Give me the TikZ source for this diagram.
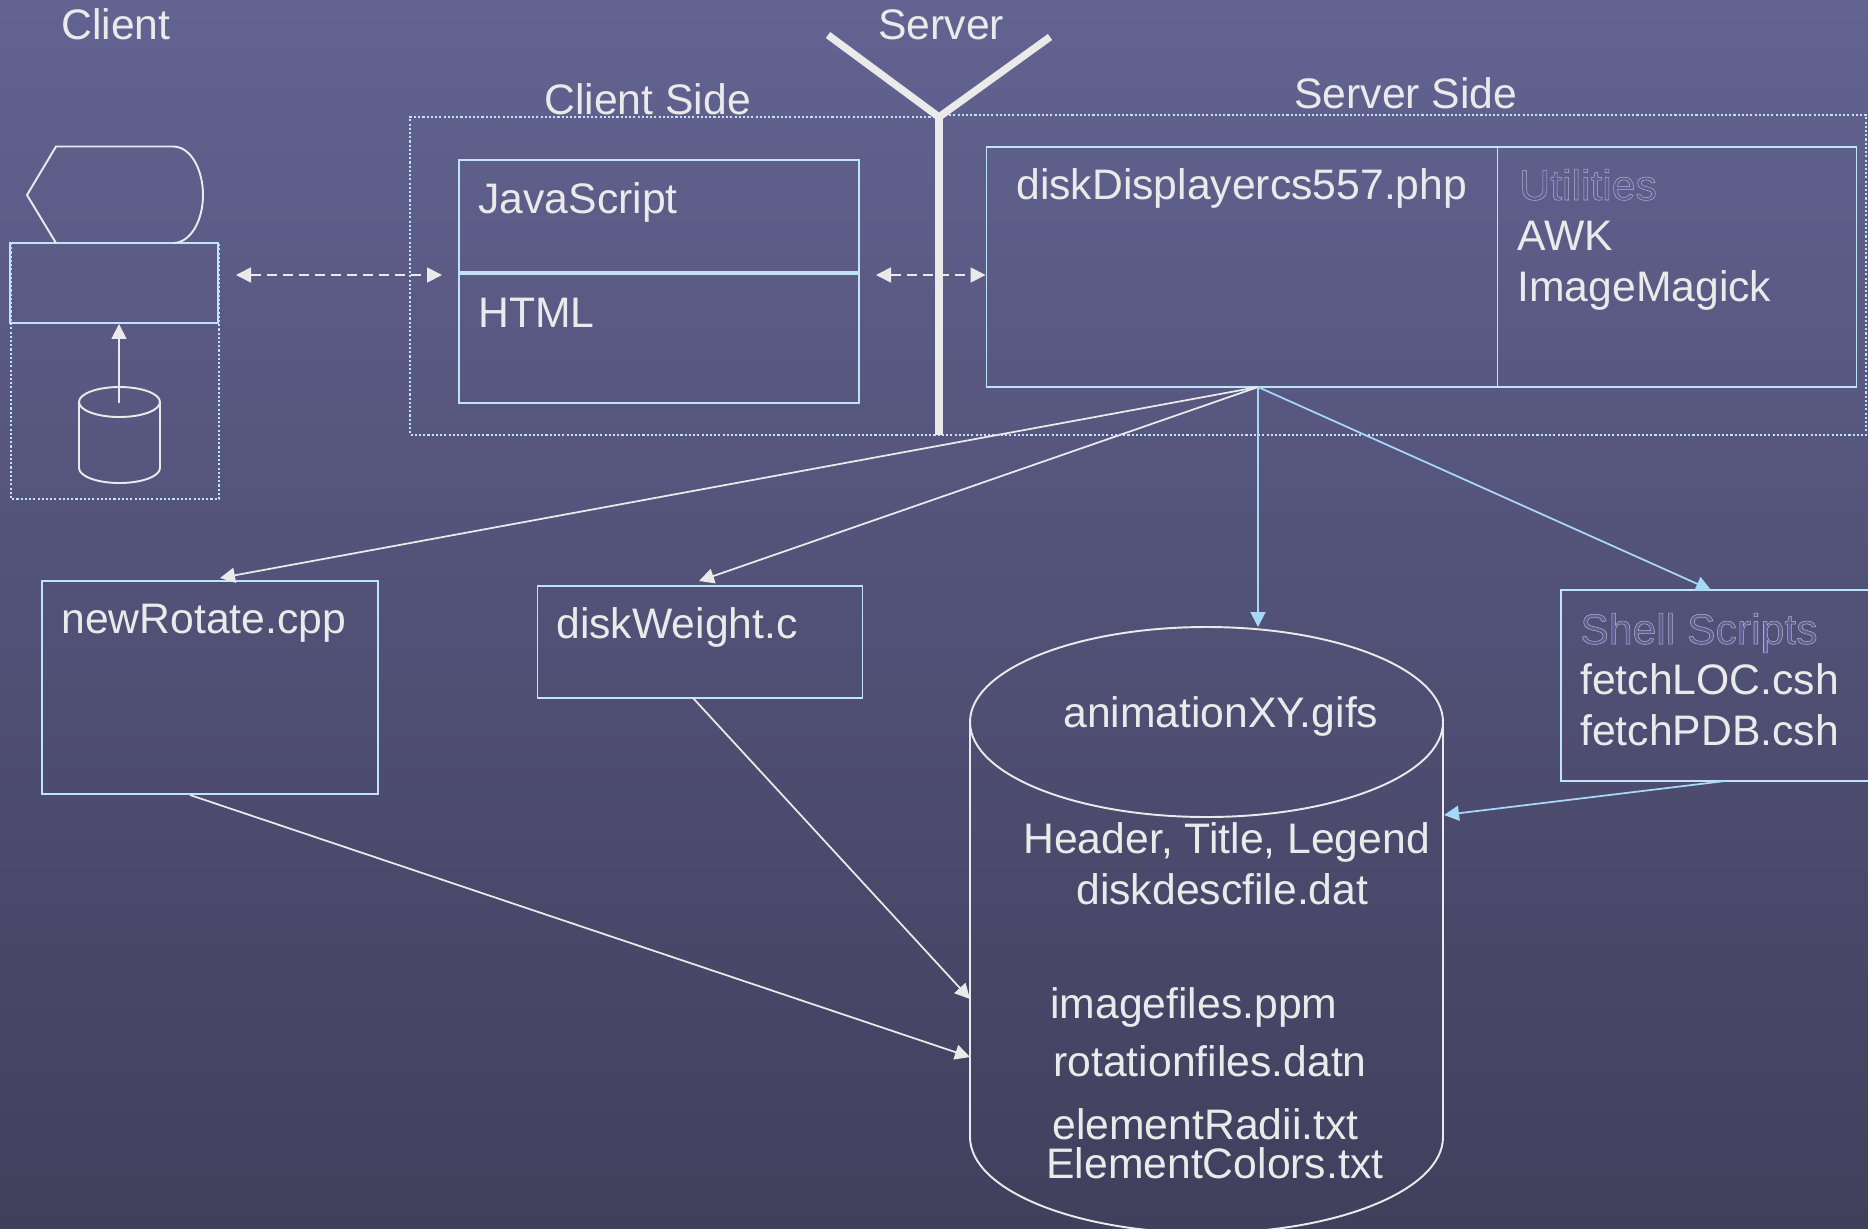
\documentclass[tikz,border=0pt]{standalone}
\usepackage{fontspec}
\setmainfont{Liberation Sans}
\usetikzlibrary{arrows.meta}
\definecolor{pale}{HTML}{EAEAEA}
\definecolor{icy}{HTML}{BFE3F8}
\definecolor{skyline}{HTML}{A8D8F8}
\definecolor{slatetop}{HTML}{636392}
\definecolor{slatebot}{HTML}{403F5C}
\newcommand{\px}{0.02cm}
\newcommand{\ghost}[1]{\special{pdf:code q 2 Tr 0.3 w 0.7 0.7 0.78 RG 0.37 0.37 0.58 rg}#1\special{pdf:code Q}}
\tikzset{
  lab/.style={anchor=base west, inner sep=0pt, text=pale, font=\fontsize{24.3pt}{28pt}\selectfont},
  boxnode/.style={draw=icy, line width=1.1pt, inner sep=0pt},
  sidebox/.style={draw=icy, line width=1.1pt, dash pattern=on 1.2pt off 1.2pt},
  palearrow/.style={draw=pale, line width=1pt, -{Triangle[length=3mm,width=3mm]}},
  bluearrow/.style={draw=skyline, line width=1pt, -{Triangle[length=3mm,width=3mm]}},
  wire/.style={draw=pale, line width=1.1pt},
  duplex/.style={draw=pale, line width=1pt, dash pattern=on 2mm off 1.2mm,
    {Triangle[length=3mm,width=3mm]}-{Triangle[length=3mm,width=3mm]}}
}
\begin{document}
\begin{tikzpicture}[x=0.02cm, y=-0.02cm]
  \useasboundingbox (0,0) rectangle (1868,1228);
  \shade[top color=slatetop, bottom color=slatebot] (0,0) rectangle (1868,1228);

  % dotted groups
  \draw[sidebox] (11,243) rectangle (219,499);
  \draw[sidebox] (939,117) -- (410,117) -- (410,435) -- (1866,435) -- (1866,115) -- (939,115);

  % server antenna
  \draw[draw=pale, line width=4.2pt] (828,35) -- (939,117) -- (1050,37);
  \draw[draw=pale, line width=4.2pt] (939,117) -- (939,435);

  % boxes
  \node[boxnode, minimum width=208*\px, minimum height=80*\px] (clientbox) at (114,283) {};
  \node[boxnode, minimum width=400*\px, minimum height=243*\px] (jsbox) at (659,281.5) {};
  \node[boxnode, minimum width=511*\px, minimum height=240*\px] (phpbox) at (1242,267) {};
  \node[boxnode, minimum width=359*\px, minimum height=240*\px] (utilbox) at (1677,267) {};
  \node[boxnode, minimum width=336*\px, minimum height=213*\px] (rotatebox) at (210,687.5) {};
  \node[boxnode, minimum width=325*\px, minimum height=112*\px] (weightbox) at (700,642) {};
  \node[boxnode, minimum width=330*\px, minimum height=191*\px] (shellbox) at (1726,685.5) {};
  \draw[draw=icy, line width=2pt] (jsbox.west |- 0,273) -- (jsbox.east |- 0,273);

  % browser shape
  \draw[wire] (56,243) -- (27,195) -- (56,146.5) -- (173,146.5)
    .. controls (191,146.5) and (203,170) .. (203,195)
    .. controls (203,220) and (191,243) .. (173,243);

  % small disk
  \draw[wire] (119.5,402) ellipse (40.5 and 15);
  \draw[wire] (79,402) -- (79,468) arc[start angle=180, end angle=0, x radius=40.5, y radius=15] -- (160,402);

  % big disk
  \draw[wire] (1206.5,722) ellipse (236.5 and 95);
  \draw[wire] (970,722) -- (970,1137) arc[start angle=180, end angle=0, x radius=236.5, y radius=96] -- (1443,722);

  % labels
  \node[lab] (clienttitle) at (61,39) {Client};
  \node[lab] (servertitle) at (878,39) {Server};
  \node[lab] (clientside) at (544,114) {Client Side};
  \node[lab] (serverside) at (1294,108) {Server Side};
  \node[lab] (jstext) at (478,213) {JavaScript};
  \node[lab] (htmltext) at (478,327) {HTML};
  \node[lab] (phptext) at (1016,199) {diskDisplayercs557.php};
  \node[lab] (utiltext) at (1519,200) {\ghost{Utilities}};
  \node[lab] (awktext) at (1517,250) {AWK};
  \node[lab] (magicktext) at (1517,301) {ImageMagick};
  \node[lab] (rotatetext) at (61,633) {newRotate.cpp};
  \node[lab] (weighttext) at (556,638) {diskWeight.c};
  \node[lab] (shelltext) at (1580,644) {\ghost{Shell Scripts}};
  \node[lab] (loctext) at (1580,694) {fetchLOC.csh};
  \node[lab] (pdbtext) at (1580,745) {fetchPDB.csh};
  \node[lab] (giftext) at (1063,727) {animationXY.gifs};
  \node[lab] (headertext) at (1023,853) {Header, Title, Legend};
  \node[lab] (desctext) at (1076,904) {diskdescfile.dat};
  \node[lab] (ppmtext) at (1050,1018) {imagefiles.ppm};
  \node[lab] (datntext) at (1053,1076) {rotationfiles.datn};
  \node[lab] (radiitext) at (1052,1139) {elementRadii.txt};
  \node[lab] (colortext) at (1046,1178) {ElementColors.txt};

  % connector ends
  \coordinate (phpout) at (1258,387);
  \coordinate (rotatein) at (220,578);
  \coordinate (rotateout) at (190,795);
  \coordinate (weightin) at (699,581);
  \coordinate (weightout) at (693,698);
  \coordinate (shellin) at (1711,590);
  \coordinate (shellout) at (1725,781);
  \coordinate (diskin) at (1258,627);
  \coordinate (diskrotate) at (970,1057);
  \coordinate (diskweight) at (970,999);
  \coordinate (diskshell) at (1444,815);
  \coordinate (smalldisk) at (119,403);
  \coordinate (browserleft) at (236,275);
  \coordinate (pageright) at (442,275);
  \coordinate (jsright) at (876,275);

  % connectors
  \draw[palearrow] (smalldisk) -- (smalldisk |- clientbox.south);
  \draw[duplex] (browserleft) -- (pageright);
  \draw[duplex] (jsright) -- (phpbox.west |- jsright);
  \draw[palearrow] (phpout) -- (rotatein);
  \draw[palearrow] (phpout) -- (weightin);
  \draw[bluearrow] (phpout) -- (diskin);
  \draw[bluearrow] (phpout) -- (shellin);
  \draw[palearrow] (rotateout) -- (diskrotate);
  \draw[palearrow] (weightout) -- (diskweight);
  \draw[bluearrow] (shellout) -- (diskshell);
\end{tikzpicture}
\end{document}
